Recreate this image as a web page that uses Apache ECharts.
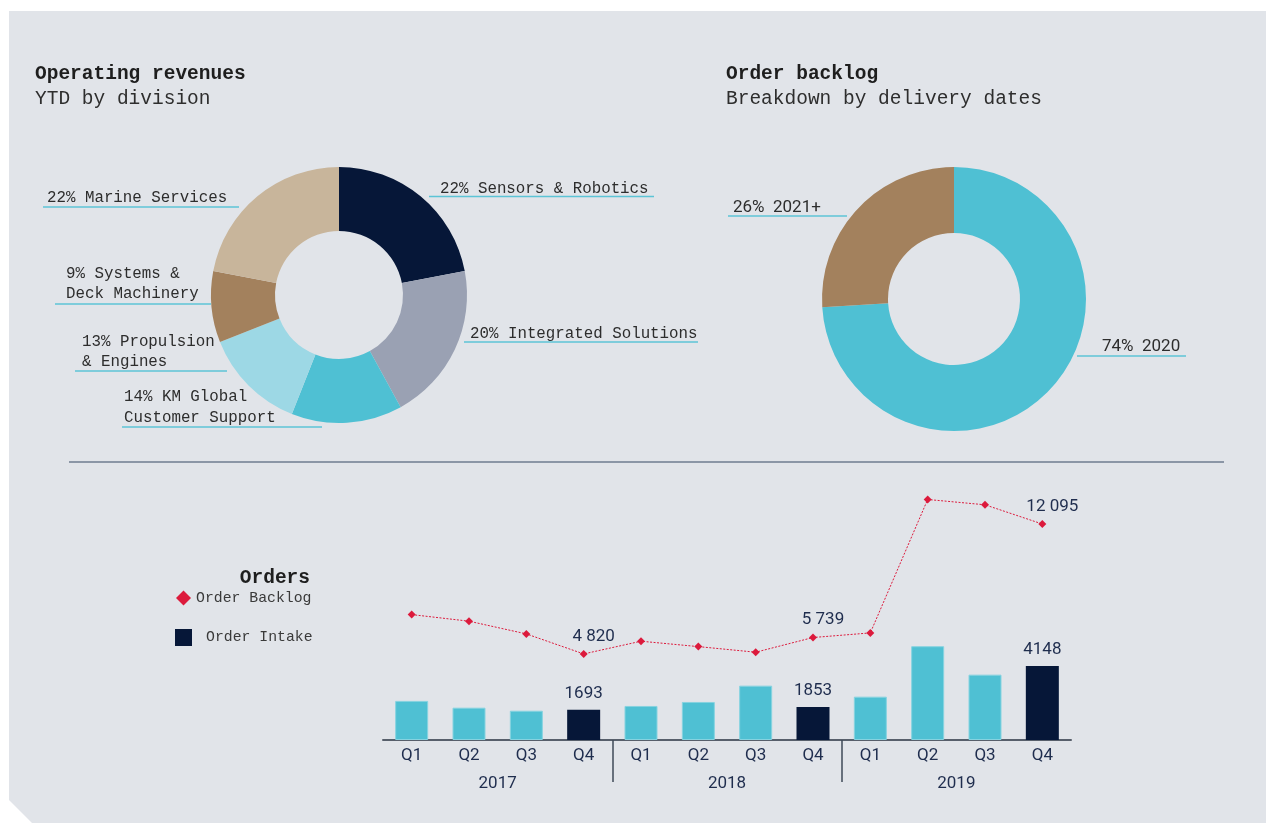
<!DOCTYPE html>
<html>
<head>
<meta charset="utf-8">
<script src="https://cdn.jsdelivr.net/npm/echarts@6/dist/echarts.min.js"></script>
<style>
  html, body { margin: 0; padding: 0; background: #ffffff; }
  #wrap { position: relative; width: 1266px; height: 823px; overflow: hidden; }
  #panel { position: absolute; left: 0; top: 0; width: 1266px; height: 823px; background: #e1e4e9;
    clip-path: polygon(9px 11px, 1266px 11px, 1266px 823px, 32px 823px, 9px 800px); }
  #c { position: absolute; left: 0; top: 0; width: 1266px; height: 823px; }
</style>
</head>
<body>
<div id="wrap"><div id="panel"></div><div id="c"></div></div>
<script>
// ---------- data ----------
const divisionNames = ['Sensors & Robotics', 'Integrated Solutions', 'KM Global\nCustomer Support',
  'Propulsion\n& Engines', 'Systems &\nDeck Machinery', 'Marine Services'];
const divisionShares = [22, 20, 14, 13, 9, 22];

const backlogPeriods = ['2020', '2021+'];
const backlogShares = [74, 26];

const quarters = ['Q1', 'Q2', 'Q3', 'Q4', 'Q1', 'Q2', 'Q3', 'Q4', 'Q1', 'Q2', 'Q3', 'Q4'];
const years = ['2017', '2018', '2019'];
const orderIntake = [2190, 1810, 1640, 1693, 1906, 2130, 3044, 1853, 2427, 5252, 3660, 4148];
const orderBacklog = [7023, 6653, 5941, 4820, 5532, 5230, 4916, 5739, 5997, 13469, 13172, 12095];

// ---------- styles / layout ----------
const MONO = '"Liberation Mono", "DejaVu Sans Mono", monospace';
const SANS = 'Roboto, "Noto Sans", sans-serif';
const NAVY = '#061738';
const CYAN = '#4fc0d3';
const RED = '#dc1a3c';
const divisionColors = ['#061738', '#9aa1b3', '#4fc0d3', '#9dd8e5', '#a3815d', '#c8b59b'];
const backlogColors = ['#4fc0d3', '#a3815d'];
const UNDERLINE = '#5cc4d6';

// label placement (text left, text middle, underline y, underline x-range)
const divisionLabelSpots = [
  { x: 440, y: 189, ly: 196.5, x1: 429, x2: 654 },
  { x: 470, y: 334, ly: 342, x1: 464, x2: 698 },
  { x: 124, y: 407.5, ly: 427, x1: 122, x2: 322 },
  { x: 82, y: 352, ly: 371, x1: 75, x2: 227 },
  { x: 66, y: 284, ly: 304, x1: 55, x2: 211 },
  { x: 47, y: 198, ly: 207, x1: 43, x2: 239 }
];
const backlogLabelSpots = [
  { x: 1102, y: 347, ly: 356, x1: 1077, x2: 1186 },
  { x: 733, y: 207.5, ly: 216, x1: 728, x2: 847 }
];

function spotLayout(spots) {
  return function (params) {
    const s = spots[params.dataIndex];
    return {
      x: s.x, y: s.y, align: 'left', verticalAlign: 'middle',
      labelLinePoints: [[s.x1, s.ly], [s.x1, s.ly], [s.x2, s.ly]]
    };
  };
}

function spaced(v) {
  return String(v).replace(/\B(?=(\d{3})+(?!\d))/g, ' ');
}

const isYearEnd = (i) => quarters[i] === 'Q4';
// year groups on the quarter scale
const yearStarts = quarters.map((q, i) => (q === 'Q1' ? i : -1)).filter((i) => i >= 0);
const yearBoundaries = yearStarts.filter((i) => i > 0);
const yearMids = yearStarts.map((s, k) => (s + (k + 1 < yearStarts.length ? yearStarts[k + 1] : quarters.length)) / 2);

const chart = echarts.init(document.getElementById('c'), null, { renderer: 'canvas' });

const titleText = { fontFamily: MONO, fontSize: 19.5, fontWeight: 'bold', color: '#1e1e1e', lineHeight: 22 };
const subText = { fontFamily: MONO, fontSize: 19.5, color: '#2e2e2e', lineHeight: 22 };

const option = {
  animation: false,
  backgroundColor: 'transparent',
  title: [
    { text: 'Operating revenues', subtext: 'YTD by division', left: 35, top: 63, itemGap: 3, padding: 0,
      textStyle: titleText, subtextStyle: subText },
    { text: 'Order backlog', subtext: 'Breakdown by delivery dates', left: 726, top: 63, itemGap: 3, padding: 0,
      textStyle: titleText, subtextStyle: subText },
    { text: 'Orders', right: 956, top: 567, padding: 0, textStyle: titleText }
  ],
  legend: [
    { data: [{ name: 'Order Backlog', icon: 'diamond', itemStyle: { color: RED } }],
      left: 176, top: 590.5, padding: 0, itemWidth: 15, itemHeight: 15, selectedMode: false,
      textStyle: { fontFamily: MONO, fontSize: 14.8, color: '#3a3a3a' } },
    { data: [{ name: 'Order Intake', icon: 'rect', itemStyle: { color: NAVY } }],
      left: 175, top: 629, padding: 0, itemWidth: 17, itemHeight: 17, selectedMode: false,
      textStyle: { fontFamily: MONO, fontSize: 14.8, color: '#3a3a3a', padding: [0, 0, 0, 9] } }
  ],
  graphic: [
    { type: 'line', shape: { x1: 69, y1: 462, x2: 1224, y2: 462 },
      style: { stroke: '#8b96a6', lineWidth: 2 }, silent: true }
  ],
  grid: [
    { left: 383, right: 195, top: 490, bottom: 83 },
    { left: 383, right: 195, top: 739, bottom: 83 }
  ],
  xAxis: [
    { type: 'category', gridIndex: 0, data: quarters, boundaryGap: true,
      axisLine: { lineStyle: { color: '#575f6b', width: 2 } },
      axisTick: { show: false },
      axisLabel: { interval: 0, margin: 7, fontFamily: SANS, fontSize: 17, color: '#1f2d4e' } },
    { type: 'value', gridIndex: 1, min: 0, max: quarters.length,
      axisLine: { show: false }, splitLine: { show: false },
      axisTick: { show: true, length: 42, customValues: yearBoundaries,
        lineStyle: { color: '#3f4958', width: 1.5 } },
      axisLabel: { customValues: yearMids, margin: 35, fontFamily: SANS, fontSize: 17, color: '#1f2d4e',
        formatter: (v) => years[yearMids.indexOf(v)] } }
  ],
  yAxis: [
    { type: 'value', gridIndex: 0, min: 0, max: 14000, show: false, splitLine: { show: false } },
    { type: 'value', gridIndex: 1, show: false, splitLine: { show: false } }
  ],
  series: [
    {
      type: 'pie', name: 'Operating revenues', center: [339, 295], radius: [64, 128],
      startAngle: 90, clockwise: true, avoidLabelOverlap: false, silent: true,
      emphasis: { disabled: true },
      data: divisionNames.map((n, i) => ({ name: n, value: divisionShares[i], itemStyle: { color: divisionColors[i] } })),
      label: { show: true, position: 'outside', formatter: (p) => p.value + '% ' + p.name,
        fontFamily: MONO, fontSize: 15.8, lineHeight: 20.5, color: '#2d2d2d' },
      labelLine: { show: true, length: 4, length2: 4, lineStyle: { color: UNDERLINE, width: 1.5 } },
      labelLayout: spotLayout(divisionLabelSpots)
    },
    {
      type: 'pie', name: 'Order backlog', center: [954, 299], radius: [66, 132],
      startAngle: 90, clockwise: true, avoidLabelOverlap: false, silent: true,
      emphasis: { disabled: true },
      data: backlogPeriods.map((n, i) => ({ name: n, value: backlogShares[i], itemStyle: { color: backlogColors[i] } })),
      label: { show: true, position: 'outside', formatter: (p) => p.value + '%  ' + p.name,
        fontFamily: SANS, fontSize: 17, color: '#2d2d2d' },
      labelLine: { show: true, length: 4, length2: 4, lineStyle: { color: UNDERLINE, width: 1.5 } },
      labelLayout: spotLayout(backlogLabelSpots)
    },
    {
      type: 'bar', name: 'Order Intake', xAxisIndex: 0, yAxisIndex: 0, barWidth: 33, z: 2,
      data: orderIntake.map((v, i) => ({
        value: v,
        itemStyle: isYearEnd(i) ? { color: NAVY } : { color: CYAN, borderColor: '#86d3e0', borderWidth: 1 },
        label: { show: isYearEnd(i) }
      })),
      label: { position: 'top', distance: 8, fontFamily: SANS, fontSize: 17, color: '#1f2d4e' },
      emphasis: { disabled: true }
    },
    {
      type: 'line', name: 'Order Backlog', xAxisIndex: 0, yAxisIndex: 0, z: 3,
      symbol: 'diamond', symbolSize: 8,
      itemStyle: { color: RED },
      lineStyle: { color: RED, width: 1, type: [2, 1.5] },
      data: orderBacklog.map((v, i) => ({ value: v, label: { show: isYearEnd(i) } })),
      label: { position: 'top', distance: 5, offset: [10, 0], formatter: (p) => spaced(p.value),
        fontFamily: SANS, fontSize: 17, color: '#1f2d4e' },
      emphasis: { disabled: true }
    }
  ]
};

chart.setOption(option);
</script>
</body>
</html>
